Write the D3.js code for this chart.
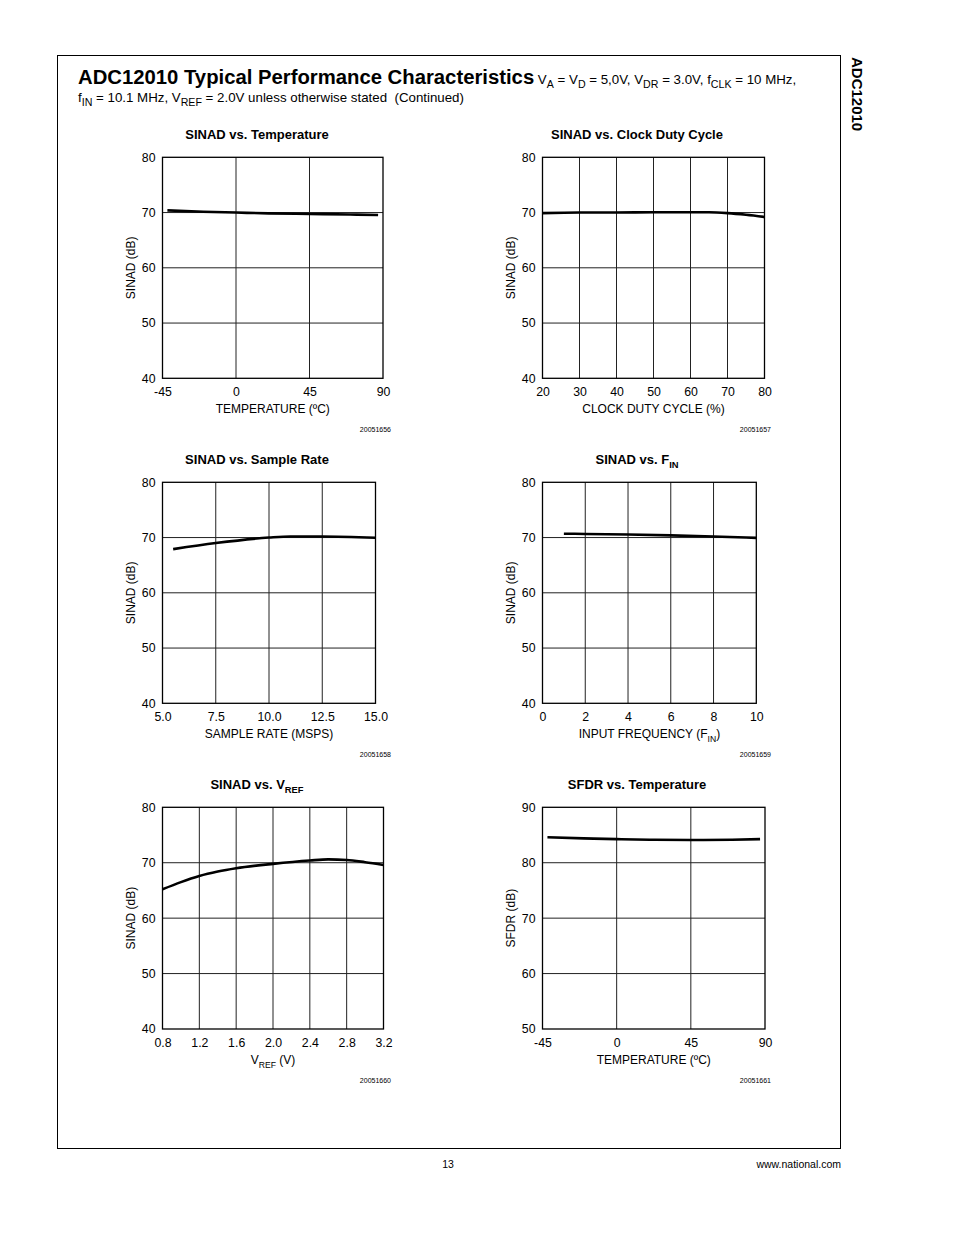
<!DOCTYPE html>
<html><head><meta charset="utf-8">
<script src="https://cdn.jsdelivr.net/npm/d3@7"></script>
<style>
html,body{margin:0;padding:0;background:#fff;}
svg{display:block;font-family:"Liberation Sans",Arial,Helvetica,sans-serif;}
</style></head>
<body>
<svg id="page" width="954" height="1235"></svg>
<script>
// ---- data ----
const tempX = [-42, -20, 0, 20, 45, 70, 87];
const tempSinad = [70.4, 70.15, 70.0, 69.85, 69.75, 69.65, 69.55];
const dutyX = [20, 30, 40, 50, 60, 65, 70, 75, 80];
const dutySinad = [69.9, 70.0, 70.0, 70.05, 70.05, 70.05, 69.9, 69.6, 69.2];
const rateX = [5.5, 7.5, 10.0, 11.0, 12.0, 12.5, 15.0];
const rateSinad = [67.9, 69.0, 70.0, 70.2, 70.2, 70.2, 69.95];
const finX = [1, 2, 4, 6, 8, 10];
const finSinad = [70.7, 70.65, 70.55, 70.4, 70.2, 69.95];
const vrefX = [0.8, 1.0, 1.2, 1.4, 1.6, 2.0, 2.4, 2.6, 2.8, 3.0, 3.2];
const vrefSinad = [65.2, 66.5, 67.6, 68.4, 69.0, 69.8, 70.4, 70.6, 70.5, 70.1, 69.6];
const sfdrX = [-42, -20, 0, 20, 45, 70, 87];
const sfdrY = [84.6, 84.4, 84.25, 84.15, 84.1, 84.15, 84.25];

const tempTicks = [-45, 0, 45, 90];
const dutyTicks = [20, 30, 40, 50, 60, 70, 80];
const rateTicks = [5.0, 7.5, 10.0, 12.5, 15.0];
const finTicks = [0, 2, 4, 6, 8, 10];
const vrefTicks = [0.8, 1.2, 1.6, 2.0, 2.4, 2.8, 3.2];
const sinadTicks = [40, 50, 60, 70, 80];
const sfdrTicks = [50, 60, 70, 80, 90];

const svg = d3.select("#page");

// page frame
svg.append("rect").attr("x",57.5).attr("y",55.5).attr("width",783).attr("height",1093)
  .attr("fill","none").attr("stroke","#000").attr("stroke-width",1);

// side label
svg.append("text").attr("transform","translate(852,57) rotate(90)")
  .attr("font-size",15).attr("font-weight","bold").attr("text-anchor","start").text("ADC12010");

// rich text with subscripts
function richText(sel, parts, size, subScale) {
  const ss = subScale || 0.72;
  let pending = 0;
  parts.forEach(p => {
    if (typeof p === "string") {
      const t = sel.append("tspan").attr("font-size", size).text(p);
      if (pending) { t.attr("dy", pending); pending = 0; }
    } else {
      sel.append("tspan").attr("font-size", size*ss).attr("dy", size*0.3).text(p.sub);
      pending = -size*0.3;
    }
  });
}
const h1 = svg.append("text").attr("x",78).attr("y",84).attr("xml:space","preserve");
h1.append("tspan").attr("font-size",20.3).attr("font-weight","bold").text("ADC12010 Typical Performance Characteristics");
richText(h1, [" V", {sub:"A"}, " = V", {sub:"D"}, " = 5,0V, V", {sub:"DR"}, " = 3.0V, f", {sub:"CLK"}, " = 10 MHz,"], 13.3, 0.8);
const h2 = svg.append("text").attr("x",78).attr("y",102).attr("xml:space","preserve");
richText(h2, ["f", {sub:"IN"}, " = 10.1 MHz, V", {sub:"REF"}, " = 2.0V unless otherwise stated  (Continued)"], 13.3, 0.8);

// footer
svg.append("text").attr("x",448).attr("y",1168).attr("font-size",10.5).attr("text-anchor","middle").text("13");
svg.append("text").attr("x",841).attr("y",1168).attr("font-size",10.5).attr("text-anchor","end").text("www.national.com");

const intFmt = d => String(d);
function chart(cfg) {
  const g = svg.append("g");
  const x = d3.scaleLinear().domain(cfg.xDomain).range([cfg.left, cfg.right]);
  const y = d3.scaleLinear().domain(cfg.yDomain).range([cfg.bottom, cfg.top]);
  // grid
  g.append("g").selectAll("line").data(cfg.xTicks.slice(1,-1)).join("line")
    .attr("x1", d => x(d)).attr("x2", d => x(d)).attr("y1", cfg.top).attr("y2", cfg.bottom)
    .attr("stroke","#222").attr("stroke-width",1);
  g.append("g").selectAll("line").data(cfg.yTicks.slice(1,-1)).join("line")
    .attr("y1", d => y(d)).attr("y2", d => y(d)).attr("x1", cfg.left).attr("x2", cfg.right)
    .attr("stroke","#222").attr("stroke-width",1);
  // frame
  g.append("rect").attr("x",cfg.left).attr("y",cfg.top).attr("width",cfg.right-cfg.left)
    .attr("height",cfg.bottom-cfg.top).attr("fill","none").attr("stroke","#000").attr("stroke-width",1.3);
  // axes
  const ax = g.append("g").attr("transform",`translate(0,${cfg.bottom})`)
    .call(d3.axisBottom(x).tickValues(cfg.xTicks).tickSize(0).tickPadding(9).tickFormat(cfg.xFmt));
  const ay = g.append("g").attr("transform",`translate(${cfg.left},0)`)
    .call(d3.axisLeft(y).tickValues(cfg.yTicks).tickSize(0).tickPadding(7).tickFormat(intFmt));
  [ax, ay].forEach(a => {
    a.select(".domain").remove();
    a.selectAll("text").attr("font-size",12.3).attr("fill","#000")
      .attr("font-family","Liberation Sans, Arial, sans-serif");
  });
  // curve
  g.append("path").datum(cfg.xs.map((v,i)=>[v,cfg.ys[i]]))
    .attr("d", d3.line().x(d=>x(d[0])).y(d=>y(d[1])).curve(d3.curveMonotoneX))
    .attr("fill","none").attr("stroke","#000").attr("stroke-width",2.6);
  // title
  const t = g.append("text").attr("x",cfg.titleX).attr("y",cfg.top-18).attr("text-anchor","middle")
    .attr("font-weight","bold");
  richText(t, cfg.title, 13);
  // x title
  const xt = g.append("text").attr("x",(cfg.left+cfg.right)/2).attr("y",cfg.bottom+35).attr("text-anchor","middle");
  richText(xt, cfg.xTitle, 12);
  // y title
  const cy = (cfg.top+cfg.bottom)/2;
  g.append("text").attr("transform",`translate(${cfg.left-28},${cy}) rotate(-90)`)
    .attr("text-anchor","middle").attr("font-size",12).text(cfg.yTitle);
  // fig number
  g.append("text").attr("x",cfg.figX).attr("y",cfg.bottom+54).attr("text-anchor","end")
    .attr("font-size",7).text(cfg.fig);
}

const LX = 162.5, RX = 542.5;
chart({left:LX, right:383, top:157.3, bottom:378.3, xDomain:[-45,90], yDomain:[40,80],
  xTicks:tempTicks, yTicks:sinadTicks, xFmt:intFmt, xs:tempX, ys:tempSinad,
  title:["SINAD vs. Temperature"], titleX:257, xTitle:["TEMPERATURE (ºC)"], yTitle:"SINAD (dB)",
  fig:"20051656", figX:391});
chart({left:RX, right:764.5, top:157.3, bottom:378.3, xDomain:[20,80], yDomain:[40,80],
  xTicks:dutyTicks, yTicks:sinadTicks, xFmt:intFmt, xs:dutyX, ys:dutySinad,
  title:["SINAD vs. Clock Duty Cycle"], titleX:637, xTitle:["CLOCK DUTY CYCLE (%)"], yTitle:"SINAD (dB)",
  fig:"20051657", figX:771});
chart({left:LX, right:375.5, top:482.3, bottom:703.3, xDomain:[5,15], yDomain:[40,80],
  xTicks:rateTicks, yTicks:sinadTicks, xFmt:d3.format(".1f"), xs:rateX, ys:rateSinad,
  title:["SINAD vs. Sample Rate"], titleX:257, xTitle:["SAMPLE RATE (MSPS)"], yTitle:"SINAD (dB)",
  fig:"20051658", figX:391});
chart({left:RX, right:756.3, top:482.3, bottom:703.3, xDomain:[0,10], yDomain:[40,80],
  xTicks:finTicks, yTicks:sinadTicks, xFmt:intFmt, xs:finX, ys:finSinad,
  title:["SINAD vs. F", {sub:"IN"}], titleX:637, xTitle:["INPUT FREQUENCY (F", {sub:"IN"}, ")"], yTitle:"SINAD (dB)",
  fig:"20051659", figX:771});
chart({left:LX, right:383.5, top:807.3, bottom:1029, xDomain:[0.8,3.2], yDomain:[40,80],
  xTicks:vrefTicks, yTicks:sinadTicks, xFmt:d3.format(".1f"), xs:vrefX, ys:vrefSinad,
  title:["SINAD vs. V", {sub:"REF"}], titleX:257, xTitle:["V", {sub:"REF"}, " (V)"], yTitle:"SINAD (dB)",
  fig:"20051660", figX:391});
chart({left:RX, right:765, top:807.3, bottom:1029, xDomain:[-45,90], yDomain:[50,90],
  xTicks:tempTicks, yTicks:sfdrTicks, xFmt:intFmt, xs:sfdrX, ys:sfdrY,
  title:["SFDR vs. Temperature"], titleX:637, xTitle:["TEMPERATURE (ºC)"], yTitle:"SFDR (dB)",
  fig:"20051661", figX:771});
</script>
</body></html>
